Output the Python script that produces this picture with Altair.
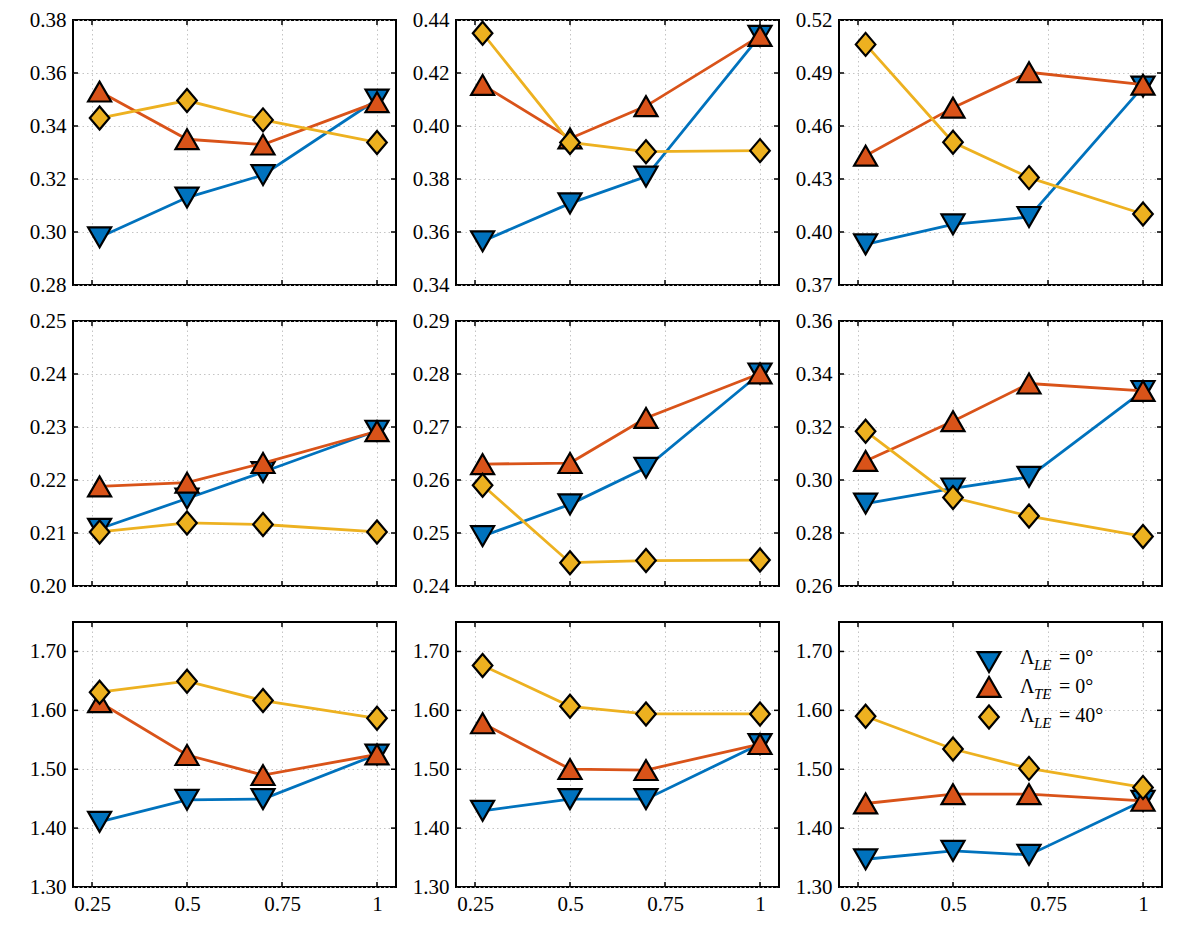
import altair as alt
import pandas as pd

# ---------------- data ----------------
x_vals = [0.27, 0.5, 0.7, 1.0]
x_ticks = [0.25, 0.5, 0.75, 1.0]
x_domain = [0.2, 1.05]

series_names = ["LE0", "TE0", "LE40"]
series_colors = ["#0072BD", "#D95319", "#EDB120"]
series_shapes = ["triangle-down", "triangle-up", "M0,-1L0.85,0L0,1L-0.85,0Z"]

legend_sub = ["LE", "TE", "LE"]
legend_val = ["= 0°", "= 0°", "= 40°"]

# row 1
p11_le0 = [0.298, 0.313, 0.3215, 0.350]
p11_te0 = [0.353, 0.335, 0.333, 0.349]
p11_le40 = [0.343, 0.3496, 0.3423, 0.3338]
p11_ticks = [0.28, 0.30, 0.32, 0.34, 0.36, 0.38]

p12_le0 = [0.3565, 0.3708, 0.3809, 0.434]
p12_te0 = [0.4155, 0.3953, 0.4075, 0.434]
p12_le40 = [0.435, 0.3938, 0.3903, 0.3907]
p12_ticks = [0.34, 0.36, 0.38, 0.40, 0.42, 0.44]

p13_le0 = [0.393, 0.4043, 0.4085, 0.4823]
p13_te0 = [0.4432, 0.4704, 0.4904, 0.4834]
p13_le40 = [0.5062, 0.4508, 0.4308, 0.4102]
p13_ticks = [0.37, 0.40, 0.43, 0.46, 0.49, 0.52]

# row 2
p21_le0 = [0.2108, 0.2165, 0.2215, 0.2293]
p21_te0 = [0.2188, 0.2195, 0.2232, 0.2292]
p21_le40 = [0.2102, 0.2119, 0.2116, 0.2102]
p21_ticks = [0.20, 0.21, 0.22, 0.23, 0.24, 0.25]

p22_le0 = [0.2494, 0.2554, 0.2623, 0.2801]
p22_te0 = [0.2630, 0.2632, 0.2717, 0.2801]
p22_le40 = [0.2590, 0.2444, 0.2448, 0.2449]
p22_ticks = [0.24, 0.25, 0.26, 0.27, 0.28, 0.29]

p23_le0 = [0.2911, 0.2968, 0.3012, 0.3336]
p23_te0 = [0.3072, 0.3222, 0.3364, 0.3336]
p23_le40 = [0.3184, 0.2934, 0.2864, 0.2787]
p23_ticks = [0.26, 0.28, 0.30, 0.32, 0.34, 0.36]

# row 3
p31_le0 = [1.4106, 1.4481, 1.4492, 1.5250]
p31_te0 = [1.6138, 1.5241, 1.4901, 1.5250]
p31_le40 = [1.6308, 1.6495, 1.6166, 1.5865]

p32_le0 = [1.4294, 1.4492, 1.4492, 1.5428]
p32_te0 = [1.5780, 1.5003, 1.4986, 1.5428]
p32_le40 = [1.6762, 1.6069, 1.5939, 1.5939]

p33_le0 = [1.3471, 1.3613, 1.3545, 1.4464]
p33_te0 = [1.4418, 1.4577, 1.4577, 1.4464]
p33_le40 = [1.5899, 1.5343, 1.5014, 1.4691]

row3_ticks = [1.30, 1.40, 1.50, 1.60, 1.70]
row3_domain = [1.30, 1.75]

W = 323
H = 265
TICK = 5
SERIF = "Liberation Serif"
MSIZE = 530


def panel(vals, y_domain, y_ticks, show_x, legend=False):
    rows = []
    for name, v in zip(series_names, vals):
        for xv, yv in zip(x_vals, v):
            rows.append({"x": xv, "y": yv, "s": name})
    df = pd.DataFrame(rows)

    xs = alt.X("x:Q", scale=alt.Scale(domain=x_domain, nice=False, zero=False),
               axis=alt.Axis(values=x_ticks, labels=show_x, grid=True, title=None,
                             labelExpr="format(datum.value, '~g')", labelPadding=6))
    ys = alt.Y("y:Q", scale=alt.Scale(domain=y_domain, nice=False, zero=False),
               axis=alt.Axis(values=y_ticks, format=".2f", grid=True, title=None))

    layers = []
    # inward tick marks
    ydf = pd.DataFrame({"y": y_ticks})
    xdf = pd.DataFrame({"x": x_ticks})
    layers.append(alt.Chart(ydf).mark_rule(color="black", strokeWidth=1.5).encode(
        y=ys, x=alt.value(0), x2=alt.value(TICK)))
    layers.append(alt.Chart(ydf).mark_rule(color="black", strokeWidth=1.5).encode(
        y=ys, x=alt.value(W - TICK), x2=alt.value(W)))
    layers.append(alt.Chart(xdf).mark_rule(color="black", strokeWidth=1.5).encode(
        x=xs, y=alt.value(H - TICK), y2=alt.value(H)))
    layers.append(alt.Chart(xdf).mark_rule(color="black", strokeWidth=1.5).encode(
        x=xs, y=alt.value(0), y2=alt.value(TICK)))

    for name, color, shape in zip(series_names, series_colors, series_shapes):
        base = alt.Chart(df).transform_filter(alt.datum.s == name)
        layers.append(base.mark_line(color=color, strokeWidth=2.8).encode(x=xs, y=ys))
        layers.append(base.mark_point(shape=shape, filled=True, fill=color, stroke="black",
                                      strokeWidth=2.2, size=MSIZE, opacity=1).encode(x=xs, y=ys))

    if legend:
        sym_y = [40, 65, 95]
        txt_y = [36, 65, 94]
        for i in range(3):
            one = pd.DataFrame({"a": ["Λ"], "b": [legend_sub[i]], "c": [legend_val[i]]})
            layers.append(alt.Chart(one).mark_point(
                shape=series_shapes[i], filled=True, fill=series_colors[i], stroke="black",
                strokeWidth=2.2, size=MSIZE, opacity=1).encode(x=alt.value(150), y=alt.value(sym_y[i])))
            layers.append(alt.Chart(one).mark_text(
                font=SERIF, fontSize=20, align="left", baseline="middle", color="black"
            ).encode(text="a:N", x=alt.value(181), y=alt.value(txt_y[i])))
            layers.append(alt.Chart(one).mark_text(
                font=SERIF, fontSize=15, fontStyle="italic", align="left",
                baseline="middle", color="black"
            ).encode(text="b:N", x=alt.value(195), y=alt.value(txt_y[i] + 7)))
            layers.append(alt.Chart(one).mark_text(
                font=SERIF, fontSize=20, align="left", baseline="middle", color="black"
            ).encode(text="c:N", x=alt.value(220), y=alt.value(txt_y[i])))

    return alt.layer(*layers).properties(width=W, height=H)


panels = [
    panel([p11_le0, p11_te0, p11_le40], [0.28, 0.38], p11_ticks, False),
    panel([p12_le0, p12_te0, p12_le40], [0.34, 0.44], p12_ticks, False),
    panel([p13_le0, p13_te0, p13_le40], [0.37, 0.52], p13_ticks, False),
    panel([p21_le0, p21_te0, p21_le40], [0.20, 0.25], p21_ticks, False),
    panel([p22_le0, p22_te0, p22_le40], [0.24, 0.29], p22_ticks, False),
    panel([p23_le0, p23_te0, p23_le40], [0.26, 0.36], p23_ticks, False),
    panel([p31_le0, p31_te0, p31_le40], row3_domain, row3_ticks, True),
    panel([p32_le0, p32_te0, p32_le40], row3_domain, row3_ticks, True),
    panel([p33_le0, p33_te0, p33_le40], row3_domain, row3_ticks, True, legend=True),
]

chart = alt.concat(*panels, columns=3, spacing={"row": 36, "column": 60}, bounds="flush").properties(
    padding={"left": 20, "top": 0, "right": 10, "bottom": 10}
).configure_view(
    stroke="black", strokeWidth=2
).configure_axis(
    labelFont=SERIF, labelFontSize=21, labelColor="black",
    ticks=False, domain=False, gridColor="#c4c4c4", gridDash=[1.5, 3], gridWidth=1,
    labelPadding=7
)

chart.save("out.html", embed_options={"renderer": "svg", "actions": False})
